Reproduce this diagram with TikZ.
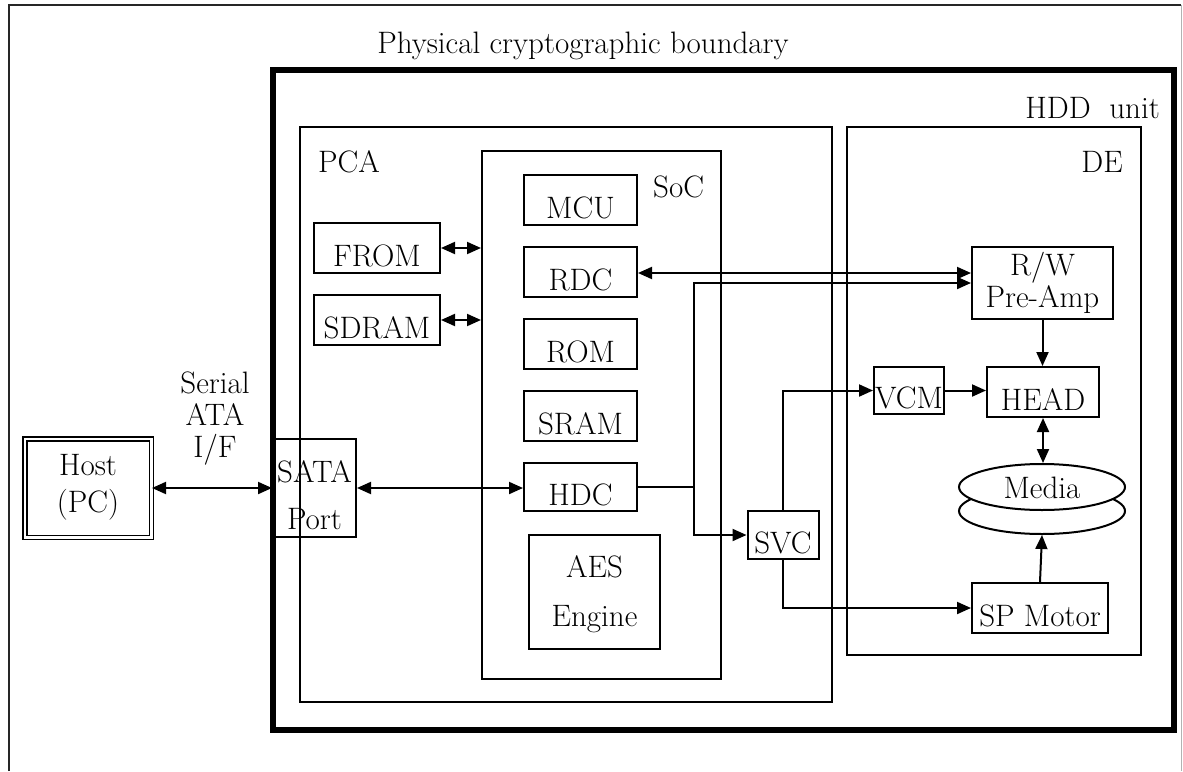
\documentclass[tikz,border=0pt]{standalone}
\usetikzlibrary{arrows.meta,shapes.geometric}
\begin{document}
\begin{tikzpicture}[x=1pt,y=-1pt,
  font=\fontsize{31}{32}\selectfont,
  box/.style={draw, line width=2pt, inner sep=0pt, text height=36pt, text depth=0pt},
  mbox/.style={draw, line width=2pt, inner sep=0pt, align=center},
  cont/.style={draw, line width=2pt, inner sep=0pt},
  tip/.tip={Triangle[length=14pt,width=12pt]},
  arr/.style={line width=2pt, -tip},
  darr/.style={line width=2pt, tip-tip},
  lbl/.style={inner sep=0pt}]
\useasboundingbox (0,0) rectangle (1183,771);
% outer frame
\draw[line width=2pt, black!85] (9,771) -- (9,5) -- (1181,5);
\draw[line width=1pt, black!30] (1181,5) -- (1181,771);
% boundary and containers
\node[cont, line width=5.5pt, minimum width=901, minimum height=660] (bound) at (723.5,400) {};
\node[lbl, anchor=base] (physl) at (583,53) {Physical cryptographic boundary};
\node[lbl, anchor=base east] (hddl) at (1160,118) {HDD\ \ unit};
\node[cont, minimum width=532, minimum height=575] (pca) at (566,414.5) {};
\node[lbl, anchor=base west] (pcal) at (318,172) {PCA};
\node[cont, minimum width=239, minimum height=528] (soc) at (601.5,415) {};
\node[lbl, anchor=base west] (socl) at (653,197) {SoC};
\node[cont, minimum width=294, minimum height=528] (de) at (994,391) {};
\node[lbl, anchor=base east] (del) at (1123,172) {DE};
% host
\node[draw, double, double distance=2.5pt, line width=1.5pt, inner sep=0pt, align=center,
      font=\fontsize{31}{37}\selectfont, minimum width=126.5, minimum height=98.5] (host) at (88,488)
      {Host\\(PC)\rule[-9.5pt]{0pt}{9.5pt}};
\node[lbl, align=center] (sif) at (215,418.6) {Serial\\ATA\\I/F};
\node[mbox, font=\fontsize{31}{47}\selectfont, minimum width=83, minimum height=98] (sata) at (314.5,488)
      {\rule{0pt}{37pt}SATA\\Port};
% PCA parts
\node[box, minimum width=126, minimum height=50] (from) at (377,248) {FROM};
\node[box, minimum width=126, minimum height=50] (sdram) at (377,320) {SDRAM};
% SoC parts
\node[box, minimum width=113, minimum height=50] (mcu) at (580.5,200) {MCU};
\node[box, minimum width=113, minimum height=50] (rdc) at (580.5,272) {RDC};
\node[box, minimum width=113, minimum height=50] (rom) at (580.5,344) {ROM};
\node[box, minimum width=113, minimum height=50] (sram) at (580.5,416) {SRAM};
\node[box, minimum width=113, minimum height=48] (hdc) at (580.5,487) {HDC};
\node[mbox, font=\fontsize{31}{49}\selectfont, minimum width=131, minimum height=114] (aes) at (594.5,592)
      {\rule{0pt}{27pt}AES\\Engine};
\node[box, minimum width=71, minimum height=48] (svc) at (783,535) {SVC};
% DE parts
\node[mbox, minimum width=141, minimum height=72] (rw) at (1042.5,283) {R/W\\Pre-Amp};
\node[box, minimum width=70, minimum height=47] (vcm) at (909,390.5) {VCM};
\node[box, minimum width=112, minimum height=50] (head) at (1043,392) {HEAD};
\node[draw, ellipse, line width=2pt, fill=white, inner sep=0pt, minimum width=166, minimum height=46] (media2) at (1042,511) {};
\node[draw, ellipse, line width=2pt, fill=white, inner sep=0pt, minimum width=166, minimum height=46,
      text height=22pt, text depth=0pt] (media) at (1042,487) {Media};
\node[box, minimum width=136, minimum height=50] (spm) at (1040,608) {SP Motor};
% connectors
\coordinate (j1) at (694,487);
\draw[darr] (host.east |- sata.west) -- (sata.west);
\draw[darr] (sata.east) -- (sata.east -| hdc.west);
\draw[darr] (from.east) -- (from.east -| soc.west);
\draw[darr] (sdram.east) -- (sdram.east -| soc.west);
\draw[darr] ([yshift=-1pt]rdc.east) -- ([yshift=-1pt]rdc.east -| rw.west);
\draw[line width=2pt] (hdc.east) -- (j1);
\draw[arr] (j1) |- (rw.west);
\draw[arr] (j1) |- (svc.west);
\draw[arr] (svc.north) |- (vcm.west);
\draw[arr] (svc.south) |- (spm.west);
\draw[arr] (vcm.east) -- (vcm.east -| head.west);
\draw[arr] (rw.south) -- (rw.south |- head.north);
\draw[darr] (head.south) -- (head.south |- media.north);
\draw[arr] (spm.north) -- (media2.south);
\end{tikzpicture}
\end{document}
